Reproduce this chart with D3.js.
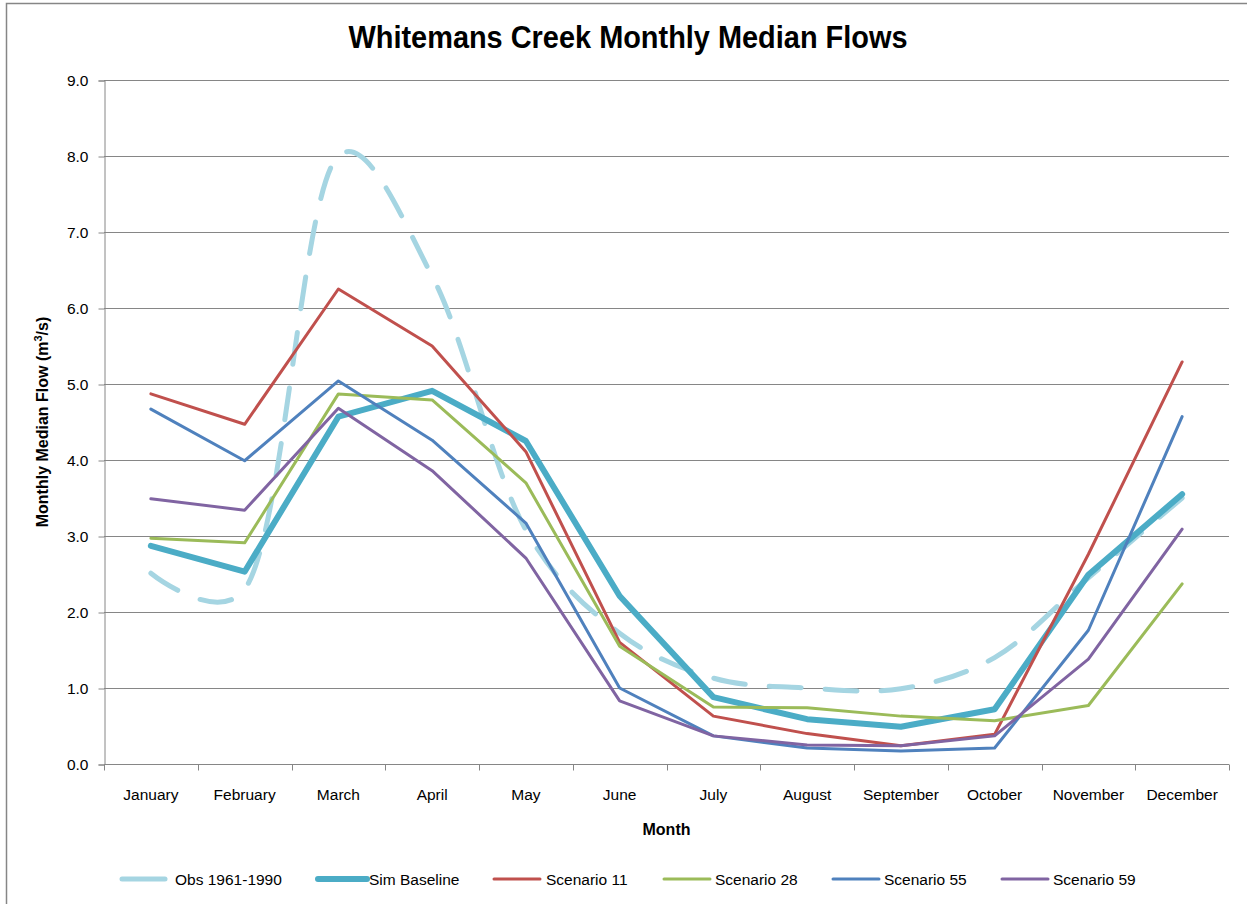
<!DOCTYPE html>
<html>
<head>
<meta charset="utf-8">
<script src="https://cdn.jsdelivr.net/npm/d3@7"></script>
<style>
  html, body { margin: 0; padding: 0; background: #fff; }
  svg { display: block; font-family: "Liberation Sans", Arial, sans-serif; }
</style>
</head>
<body>
<svg id="chart" width="1247" height="904"></svg>
<script>
// Monthly median flows, Whitemans Creek (m3/s)
const months = ["January", "February", "March", "April", "May", "June",
                "July", "August", "September", "October", "November", "December"];
const obs1961_1990 = [2.51, 2.30, 8.00, 6.42, 3.08, 1.72, 1.13, 1.00, 0.99, 1.40, 2.45, 3.50];
const simBaseline  = [2.87, 2.53, 4.57, 4.91, 4.25, 2.21, 0.88, 0.59, 0.49, 0.72, 2.49, 3.55];
const scenario11   = [4.87, 4.47, 6.25, 5.50, 4.11, 1.60, 0.63, 0.40, 0.24, 0.39, 2.76, 5.29];
const scenario28   = [2.97, 2.91, 4.87, 4.79, 3.70, 1.55, 0.75, 0.74, 0.63, 0.57, 0.77, 2.37];
const scenario55   = [4.67, 3.99, 5.04, 4.26, 3.17, 1.00, 0.37, 0.21, 0.17, 0.21, 1.76, 4.57];
const scenario59   = [3.49, 3.34, 4.68, 3.86, 2.71, 0.83, 0.37, 0.25, 0.24, 0.37, 1.38, 3.09];
const yTicks = [0, 1, 2, 3, 4, 5, 6, 7, 8, 9];

const series = [
  { name: "Obs 1961-1990", values: obs1961_1990, color: "#a5d5e2", width: 5,   dash: "32,24", smooth: true },
  { name: "Sim Baseline",  values: simBaseline,  color: "#4bacc6", width: 6,   dash: null,    smooth: false },
  { name: "Scenario 11",   values: scenario11,   color: "#c0504d", width: 3,   dash: null,    smooth: false },
  { name: "Scenario 28",   values: scenario28,   color: "#9bbb59", width: 3,   dash: null,    smooth: false },
  { name: "Scenario 55",   values: scenario55,   color: "#4f81bd", width: 3,   dash: null,    smooth: false },
  { name: "Scenario 59",   values: scenario59,   color: "#8064a2", width: 3,   dash: null,    smooth: false }
];

const svg = d3.select("#chart");
const W = 1247, H = 904;
const plot = { left: 104, right: 1229, top: 80, bottom: 764 };
const axisColor = "#868686";

// outer chart frame
svg.append("rect")
  .attr("x", 6.5).attr("y", 3.5)
  .attr("width", W + 20).attr("height", H + 20)
  .attr("fill", "none").attr("stroke", axisColor).attr("stroke-width", 1.5);

const x = d3.scaleBand().domain(months).range([plot.left, plot.right]).padding(0);
const y = d3.scaleLinear().domain([0, 9]).range([plot.bottom, plot.top]);
const cx = m => x(m) + x.bandwidth() / 2;

// horizontal gridlines
svg.append("g")
  .selectAll("line")
  .data(yTicks.filter(d => d > 0))
  .join("line")
  .attr("x1", plot.left).attr("x2", plot.right)
  .attr("y1", d => Math.round(y(d)) + 0.5).attr("y2", d => Math.round(y(d)) + 0.5)
  .attr("stroke", axisColor).attr("stroke-width", 1);

// y axis
const yAxis = svg.append("g")
  .attr("transform", `translate(${plot.left + 0.5},0.5)`)
  .call(d3.axisLeft(y).tickValues(yTicks).tickFormat(d3.format(".1f")).tickSize(6).tickPadding(10));
yAxis.select(".domain").attr("stroke", axisColor);
yAxis.selectAll(".tick line").attr("stroke", axisColor);
yAxis.selectAll(".tick text")
  .attr("fill", "#000").style("font-size", "15.5px")
  .style("font-family", "'Liberation Sans', Arial, sans-serif");

// x axis: labels centred in each category, ticks on category boundaries
const xAxis = svg.append("g")
  .attr("transform", `translate(0,${plot.bottom + 0.5})`)
  .call(d3.axisBottom(x).tickSize(0).tickPadding(24));
xAxis.select(".domain").attr("stroke", axisColor).attr("d", `M${plot.left},0H${plot.right}`);
xAxis.selectAll(".tick text")
  .attr("fill", "#000").style("font-size", "15.5px")
  .style("font-family", "'Liberation Sans', Arial, sans-serif");
const bounds = d3.range(months.length + 1).map(i => plot.left + i * x.step());
xAxis.append("g")
  .selectAll("line")
  .data(bounds)
  .join("line")
  .attr("x1", d => Math.round(d) + 0.5).attr("x2", d => Math.round(d) + 0.5)
  .attr("y1", 0).attr("y2", 6)
  .attr("stroke", axisColor);

// series lines (observed record drawn as a smoothed curve)
const lineStraight = d3.line().x((d, i) => cx(months[i])).y(d => y(d)).curve(d3.curveLinear);
const lineSmooth = d3.line().x((d, i) => cx(months[i])).y(d => y(d)).curve(d3.curveCatmullRom.alpha(0.25));

svg.append("g")
  .selectAll("path")
  .data(series)
  .join("path")
  .attr("d", s => (s.smooth ? lineSmooth : lineStraight)(s.values))
  .attr("fill", "none")
  .attr("stroke", s => s.color)
  .attr("stroke-width", s => s.width)
  .attr("stroke-dasharray", s => s.dash)
  .attr("stroke-linecap", "round")
  .attr("stroke-linejoin", "round");

// title
svg.append("text")
  .attr("x", 628).attr("y", 48)
  .attr("text-anchor", "middle")
  .attr("textLength", 559).attr("lengthAdjust", "spacingAndGlyphs")
  .style("font-size", "31px").style("font-weight", "bold")
  .text("Whitemans Creek Monthly Median Flows");

// axis titles
svg.append("text")
  .attr("x", (plot.left + plot.right) / 2).attr("y", 835)
  .attr("text-anchor", "middle")
  .style("font-size", "16px").style("font-weight", "bold")
  .text("Month");

const yTitle = svg.append("text")
  .attr("transform", `translate(48,${(plot.top + plot.bottom) / 2}) rotate(-90)`)
  .attr("text-anchor", "middle")
  .style("font-size", "16px").style("font-weight", "bold");
yTitle.append("tspan").text("Monthly Median Flow (m");
yTitle.append("tspan").attr("dy", -6).style("font-size", "11px").text("3");
yTitle.append("tspan").attr("dy", 6).text("/s)");

// legend
const legendItems = [
  { x: 122, len: 43, tx: 175 },
  { x: 318, len: 49, tx: 369 },
  { x: 494, len: 46, tx: 546 },
  { x: 664, len: 46, tx: 715 },
  { x: 833, len: 46, tx: 884 },
  { x: 1002, len: 46, tx: 1053 }
];
const legendY = 879;
const legend = svg.append("g")
  .selectAll("g")
  .data(series)
  .join("g");
legend.append("line")
  .attr("x1", (s, i) => legendItems[i].x)
  .attr("x2", (s, i) => legendItems[i].x + legendItems[i].len)
  .attr("y1", legendY).attr("y2", legendY)
  .attr("stroke", s => s.color)
  .attr("stroke-width", s => s.width)
  .attr("stroke-linecap", "round");
legend.append("text")
  .attr("x", (s, i) => legendItems[i].tx)
  .attr("y", legendY + 5.5)
  .style("font-size", "15.5px")
  .text(s => s.name);
</script>
</body>
</html>
